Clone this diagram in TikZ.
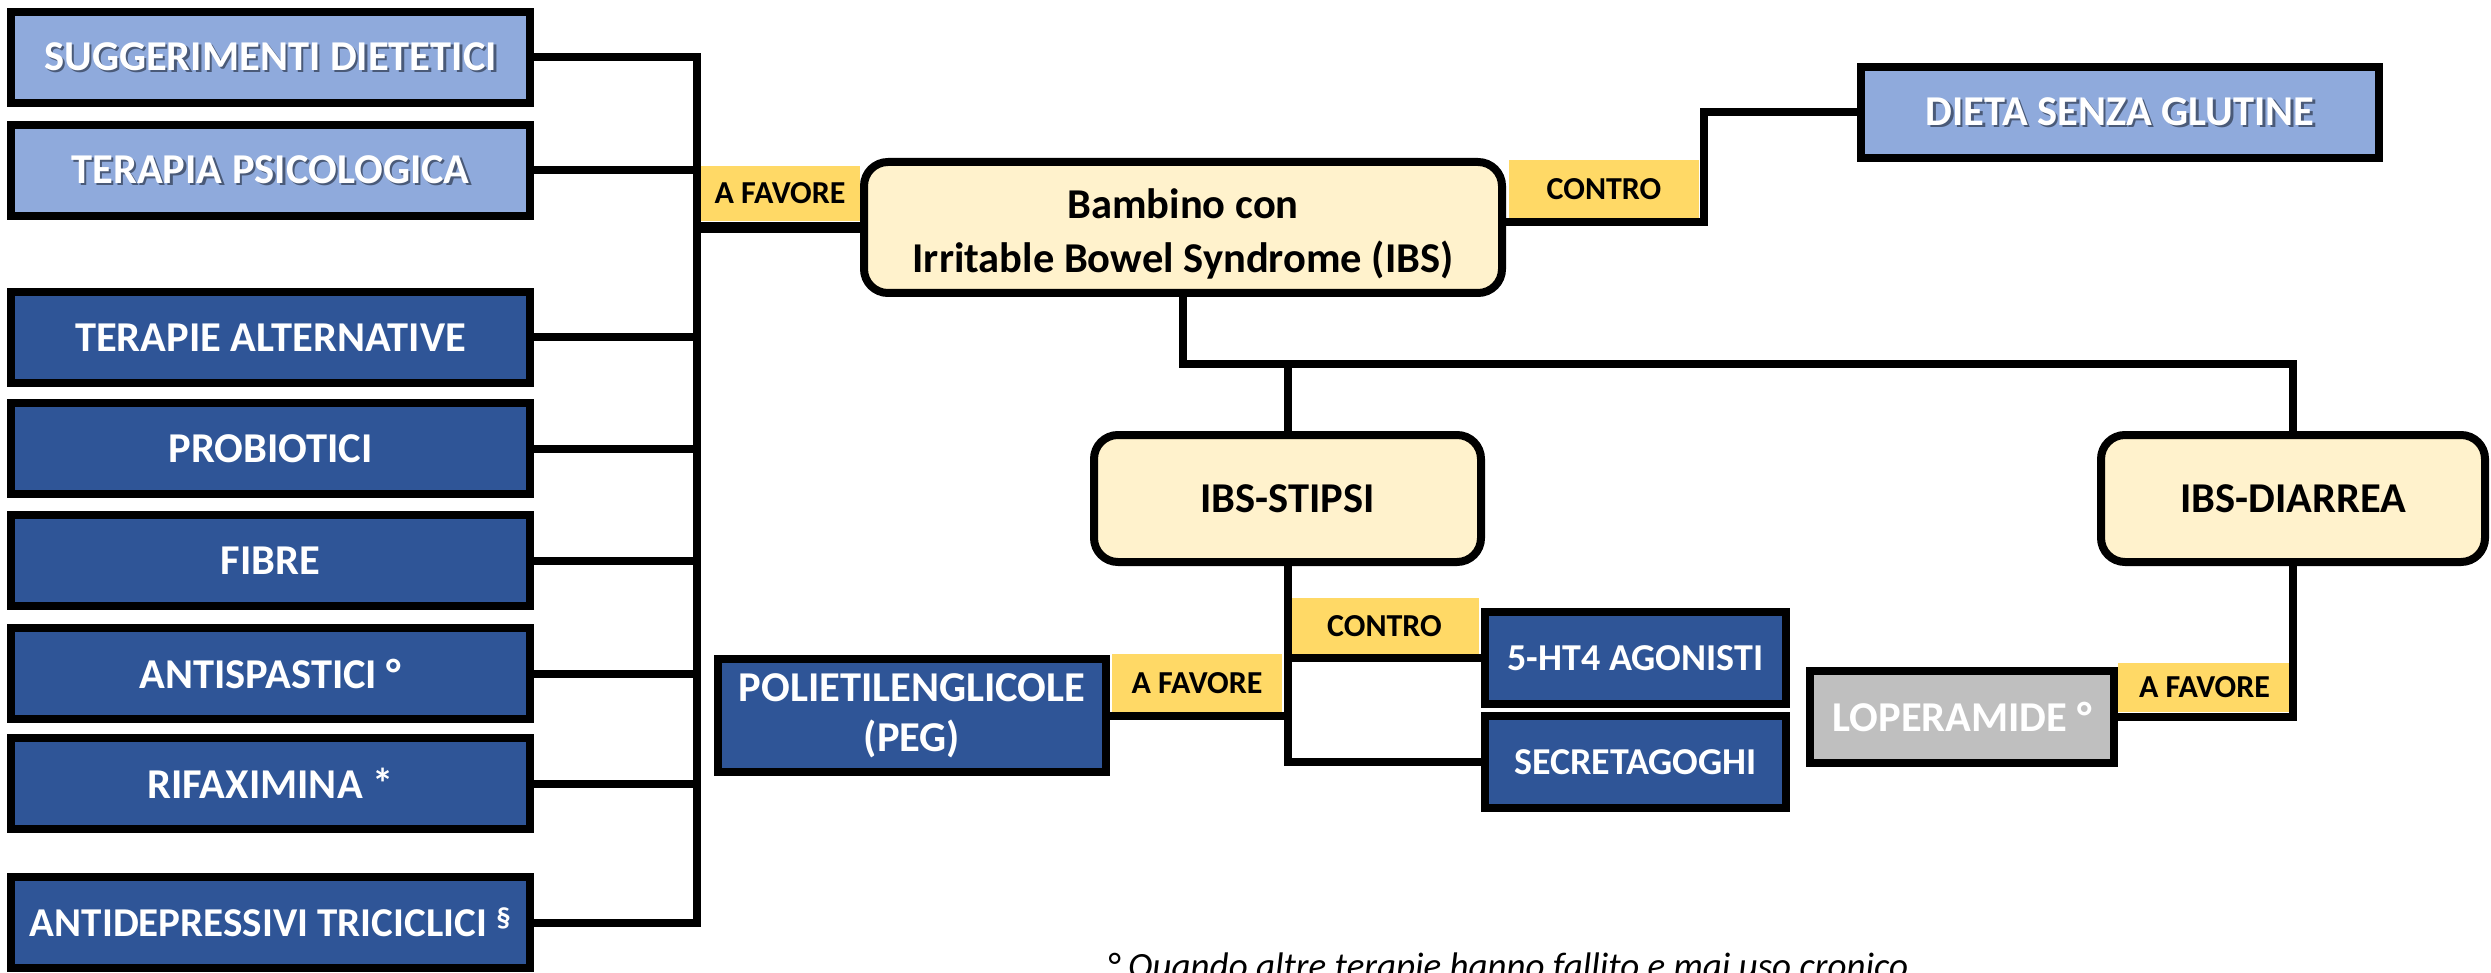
\documentclass[tikz,border=0pt]{standalone}
\usepackage{fontspec}
\setmainfont{Carlito}
\definecolor{lblue}{HTML}{8FAADC}
\definecolor{dblue}{HTML}{2F5597}
\definecolor{gbox}{HTML}{BFBFBF}
\definecolor{cream}{HTML}{FFF2CC}
\definecolor{ylw}{HTML}{FFD966}
\definecolor{shdc}{HTML}{4A5A78}
\newcommand{\shd}[1]{\rlap{\kern2.5pt\raisebox{-2.5pt}{\textcolor{shdc}{#1}}}#1}
\begin{document}
\begin{tikzpicture}[x=1pt,y=-1pt,
 bx/.style={draw=black,line width=8pt,inner sep=0pt,align=center,font=\fontsize{42.5}{50}\selectfont\bfseries},
 lb/.style={bx,fill=lblue,text=white},
 db/.style={bx,fill=dblue,text=white},
 gb/.style={bx,fill=gbox,text=white},
 cb/.style={bx,fill=cream,text=black,rounded corners=24pt},
 leftbox/.style={minimum width=519pt,minimum height=91pt},
 smallbox/.style={minimum width=301pt,minimum height=92pt,font=\fontsize{38}{44}\selectfont\bfseries},
 tag/.style={fill=ylw,inner sep=0pt,font=\fontsize{32}{38}\selectfont\bfseries,text=black},
 conn/.style={line width=8pt,line join=miter},
]
\useasboundingbox (0,0) rectangle (2491,973);
\fill[white] (0,0) rectangle (2491,973);

% left column
\node[lb,leftbox] (sugg) at (270.5,57.5) {\shd{SUGGERIMENTI DIETETICI}};
\node[lb,leftbox] (psico) at (270.5,170.5) {\shd{TERAPIA PSICOLOGICA}};
\node[db,leftbox] (alt) at (270.5,337.5) {TERAPIE ALTERNATIVE};
\node[db,leftbox] (prob) at (270.5,448.5) {PROBIOTICI};
\node[db,leftbox] (fibre) at (270.5,560.5) {FIBRE};
\node[db,leftbox] (antisp) at (270.5,673.5) {ANTISPASTICI °};
\node[db,leftbox] (rifax) at (270.5,783.5) {RIFAXIMINA *};
\node[db,leftbox,font=\fontsize{41}{48}\selectfont\bfseries] (antidep) at (270.5,922.5) {ANTIDEPRESSIVI TRICICLICI \textsuperscript{§}};

% main and branches
\node[cb,minimum width=638pt,minimum height=131pt] (main) at (1183,227.5) {};
\node[align=center,inner sep=0pt,font=\fontsize{42.5}{54}\selectfont\bfseries] (maintxt) at (1183,234) {Bambino con\\Irritable Bowel Syndrome (IBS)};
\node[lb,minimum width=518pt,minimum height=91pt] (dieta) at (2120,112.5) {\shd{DIETA SENZA GLUTINE}};
\node[cb,minimum width=387pt,minimum height=127pt] (stipsi) at (1287.5,498.5) {IBS-STIPSI};
\node[cb,minimum width=384pt,minimum height=127pt] (diarrea) at (2293,498.5) {IBS-DIARREA};
\node[db,minimum width=388pt,minimum height=113pt,font=\fontsize{42.5}{50}\selectfont\bfseries] (peg) at (912,715.5) {POLIETILENGLICOLE\\(PEG)};
\node[db,smallbox] (ht4) at (1635.5,658) {5-HT4 AGONISTI};
\node[db,smallbox] (secr) at (1635.5,762) {SECRETAGOGHI};
\node[gb,minimum width=304pt,minimum height=92pt] (lop) at (1962,717) {LOPERAMIDE °};

% tags
\node[tag,minimum width=160pt,minimum height=55pt] (t1) at (780,193.5) {A FAVORE};
\node[tag,minimum width=190pt,minimum height=58pt] (t2) at (1604,189) {CONTRO};
\node[tag,minimum width=189pt,minimum height=57pt] (t3) at (1384.5,626.5) {CONTRO};
\node[tag,minimum width=170pt,minimum height=58pt] (t4) at (1197,683) {A FAVORE};
\node[tag,minimum width=173pt,minimum height=49pt] (t5) at (2204.5,687.5) {A FAVORE};

% connectors
\coordinate (busb) at (697,922.5);
\draw[conn] (sugg.east) -| (busb) -- (antidep.east);
\foreach \n in {psico,alt,prob,fibre,antisp,rifax}
  \draw[conn] (\n.east) -- (\n.east -| busb);
\draw[line width=11pt] (busb |- main.west) -- (main.west);

\coordinate (cr) at (1704,222);
\draw[conn] (main.east |- cr) -- (cr) |- (dieta.west);

\coordinate (j) at (1183,364);
\draw[conn] (main.south) -- (j) -| (diarrea.north);
\draw[conn] (stipsi.north) -- (stipsi.north |- j);

\draw[conn] (stipsi.south) |- (secr.west);
\draw[conn] (stipsi.south |- ht4.west) -- (ht4.west);
\draw[conn] (peg.east) -- (peg.east -| stipsi.south);
\draw[conn] (diarrea.south) |- (lop.east);

% footnote
\node[anchor=base west,inner sep=0pt,font=\fontsize{37}{44}\selectfont\itshape] (fn) at (1107,978) {° Quando altre terapie hanno fallito e mai uso cronico};
\end{tikzpicture}
\end{document}
